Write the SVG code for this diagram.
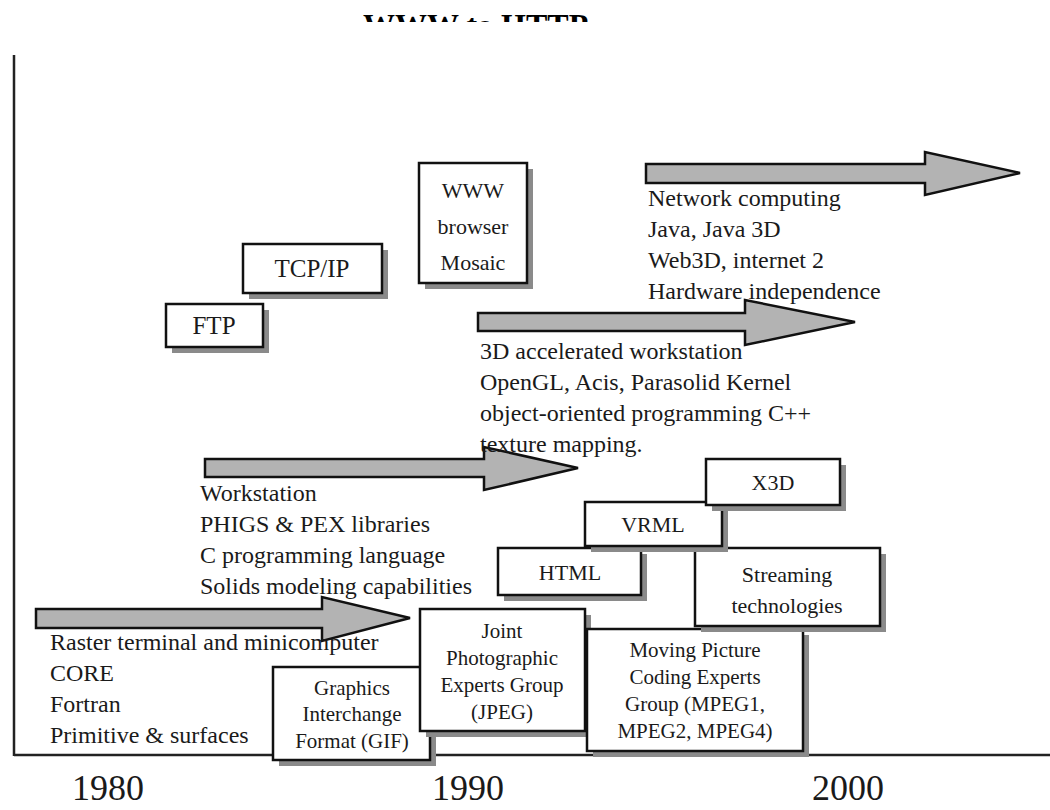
<svg xmlns="http://www.w3.org/2000/svg" width="1050" height="810" viewBox="0 0 1050 810">
<defs>
<style>
.ax{stroke:#222;stroke-width:2.5;fill:none}
.sh{fill:#8a8a8a}
.bx{fill:#fff;stroke:#111;stroke-width:2.5}
.t{font-family:"Liberation Serif","Times New Roman",serif;fill:#1a1a1a}
.bt{font-size:22px;text-anchor:middle}
.st{font-size:21px;text-anchor:middle}
.lb{font-size:24px}
.yr{font-size:36px}
.ar{fill:#b3b3b3;stroke:#111;stroke-width:2.5;stroke-linejoin:miter}
.ttl{font-family:"Liberation Serif","Times New Roman",serif;font-weight:bold;font-size:32px;fill:#000}
</style>
<clipPath id="tc"><rect x="0" y="0" width="1050" height="22"/></clipPath>
</defs>
<rect width="1050" height="810" fill="#fff"/>
<g id="title" clip-path="url(#tc)">
<text class="ttl" x="363" y="36">WWW to HTTP</text>
</g>
<g id="axes">
<line class="ax" x1="14" y1="55" x2="14" y2="756"/>
<line class="ax" x1="14" y1="755" x2="1050" y2="755"/>
</g>
<g id="years" class="t yr">
<text x="72" y="800">1980</text>
<text x="432" y="800">1990</text>
<text x="812" y="800">2000</text>
</g>
<g id="connectors">
<polygon class="ar" points="646,164 925,164 925,152 1020,173 925,195 925,183 646,183"/>
<polygon class="ar" points="478,313 745,313 745,300 855,322 745,345 745,331 478,331"/>
<polygon class="ar" points="205,459 484,459 484,447 578,468 484,490 484,477 205,477"/>
<polygon class="ar" points="36,609 322,609 322,597 410,618 322,641 322,628 36,628"/>
</g>
<g id="labels" class="t lb">
<text x="648" y="206">Network computing</text>
<text x="648" y="237">Java, Java 3D</text>
<text x="648" y="268">Web3D, internet 2</text>
<text x="648" y="299">Hardware independence</text>
<text x="480" y="359">3D accelerated workstation</text>
<text x="480" y="390">OpenGL, Acis, Parasolid Kernel</text>
<text x="480" y="421">object-oriented programming C++</text>
<text x="480" y="452">texture mapping.</text>
<text x="200" y="501">Workstation</text>
<text x="200" y="532">PHIGS &amp; PEX libraries</text>
<text x="200" y="563">C programming language</text>
<text x="200" y="594">Solids modeling capabilities</text>
<text x="50" y="650">Raster terminal and minicomputer</text>
<text x="50" y="681">CORE</text>
<text x="50" y="712">Fortran</text>
<text x="50" y="743">Primitive &amp; surfaces</text>
</g>
<g id="gif">
<rect class="sh" x="279" y="673" width="157" height="93"/>
<rect class="bx" x="273" y="667" width="157" height="93"/>
<text class="t st" x="352" y="695">Graphics</text>
<text class="t st" x="352" y="721">Interchange</text>
<text class="t st" x="352" y="748">Format (GIF)</text>
</g>
<g id="jpeg">
<rect class="sh" x="426" y="615" width="165" height="122"/>
<rect class="bx" x="420" y="609" width="165" height="122"/>
<text class="t st" x="502" y="638">Joint</text>
<text class="t st" x="502" y="665">Photographic</text>
<text class="t st" x="502" y="692">Experts Group</text>
<text class="t st" x="502" y="719">(JPEG)</text>
</g>
<g id="mpeg">
<rect class="sh" x="593" y="635" width="216" height="122"/>
<rect class="bx" x="587" y="629" width="216" height="122"/>
<text class="t st" x="695" y="657">Moving Picture</text>
<text class="t st" x="695" y="684">Coding  Experts</text>
<text class="t st" x="695" y="711">Group (MPEG1,</text>
<text class="t st" x="695" y="738">MPEG2, MPEG4)</text>
</g>
<g id="streaming">
<rect class="sh" x="701" y="554" width="185" height="78"/>
<rect class="bx" x="695" y="548" width="185" height="78"/>
<text class="t bt" x="787" y="582">Streaming</text>
<text class="t bt" x="787" y="613">technologies</text>
</g>
<g id="html">
<rect class="sh" x="504" y="554" width="143" height="47"/>
<rect class="bx" x="498" y="548" width="143" height="47"/>
<text class="t bt" x="570" y="580">HTML</text>
</g>
<g id="vrml">
<rect class="sh" x="591" y="508" width="137" height="44"/>
<rect class="bx" x="585" y="502" width="137" height="44"/>
<text class="t bt" x="653" y="532">VRML</text>
</g>
<g id="x3d">
<rect class="sh" x="712" y="465" width="134" height="46"/>
<rect class="bx" x="706" y="459" width="134" height="46"/>
<text class="t bt" x="773" y="490">X3D</text>
</g>
<g id="ftp">
<rect class="sh" x="172" y="310" width="97" height="43"/>
<rect class="bx" x="166" y="304" width="97" height="43"/>
<text class="t bt" x="214" y="334" style="font-size:25px">FTP</text>
</g>
<g id="tcpip">
<rect class="sh" x="249" y="250" width="139" height="49"/>
<rect class="bx" x="243" y="244" width="139" height="49"/>
<text class="t bt" x="312" y="277" style="font-size:25px">TCP/IP</text>
</g>
<g id="www">
<rect class="sh" x="425" y="169" width="108" height="120"/>
<rect class="bx" x="419" y="163" width="108" height="120"/>
<text class="t bt" x="473" y="198">WWW</text>
<text class="t bt" x="473" y="234">browser</text>
<text class="t bt" x="473" y="270">Mosaic</text>
</g>
</svg>
